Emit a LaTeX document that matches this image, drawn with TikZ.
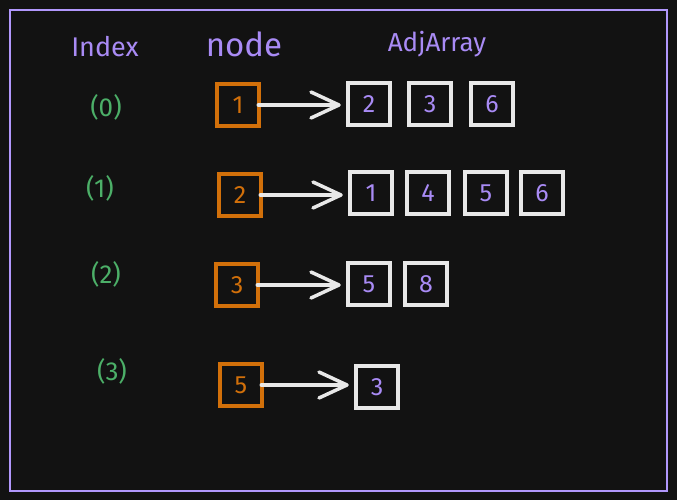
\documentclass[tikz,border=0pt]{standalone}
\usepackage{fontspec}
\setmainfont{Fira Sans}
\usetikzlibrary{arrows.meta}

\definecolor{bgdark}{HTML}{121212}
\definecolor{framelilac}{HTML}{B197FC}
\definecolor{textlilac}{HTML}{A98BF5}
\definecolor{idxgreen}{HTML}{4CAF68}
\definecolor{nodeorange}{HTML}{D2700A}
\definecolor{boxwhite}{HTML}{E8E8E8}

\tikzset{
  nodebox/.style={draw=nodeorange, line width=4.5pt, minimum size=42pt, inner sep=0pt,
    text=nodeorange, font=\fontsize{25}{28}\selectfont},
  adjbox/.style={draw=boxwhite, line width=4.5pt, minimum size=42pt, inner sep=0pt,
    text=textlilac, font=\fontsize{25}{28}\selectfont},
  idxlabel/.style={text=idxgreen, font=\fontsize{26}{28}\selectfont},
  header/.style={text=textlilac},
  linkarrow/.style={draw=boxwhite, line width=3.5pt, line cap=round,
    -{Straight Barb[length=28pt,width=26pt,round]}, shorten >=5pt}
}

\begin{document}
\begin{tikzpicture}[x=1pt,y=-1pt]
    % fondo y marco
    \useasboundingbox (0,0) rectangle (677,500);
    \fill[bgdark] (0,0) rectangle (677,500);
    \draw[framelilac, line width=2pt] (10,10) rectangle (667,491);

    % cabeceras
    \node[header, font=\fontsize{27}{30}\selectfont] (hindex) at (105,47) {Index};
    \node[header, font=\fontsize{33}{36}\selectfont] (hnode) at (244,44) {node};
    \node[header, font=\fontsize{26}{28}\selectfont] (hadj) at (437,44) {AdjArray};

    % indices
    \node[idxlabel] (i0) at (106,107) {(0)};
    \node[idxlabel] (i1) at (100,188) {(1)};
    \node[idxlabel] (i2) at (106,274) {(2)};
    \node[idxlabel] (i3) at (112,371) {(3)};

    % nodos
    \node[nodebox] (n0) at (238,105) {1};
    \node[nodebox] (n1) at (240,195) {2};
    \node[nodebox] (n2) at (237,285) {3};
    \node[nodebox] (n3) at (241,385) {5};

    % listas de adyacencia
    \node[adjbox] (a00) at (369,104) {2};
    \node[adjbox] (a01) at (430,104) {3};
    \node[adjbox] (a02) at (492,104) {6};

    \node[adjbox] (a10) at (371,193) {1};
    \node[adjbox] (a11) at (428,193) {4};
    \node[adjbox] (a12) at (486,193) {5};
    \node[adjbox] (a13) at (542,193) {6};

    \node[adjbox] (a20) at (369,284) {5};
    \node[adjbox] (a21) at (426,284) {8};

    \node[adjbox] (a30) at (377,387) {3};

    % enlaces
    \draw[linkarrow] ([xshift=-3pt]n0.east) -- (n0.east -| a00.west);
    \draw[linkarrow] ([xshift=-3pt]n1.east) -- (n1.east -| a10.west);
    \draw[linkarrow] ([xshift=-3pt]n2.east) -- (n2.east -| a20.west);
    \draw[linkarrow] ([xshift=-3pt]n3.east) -- (n3.east -| a30.west);
\end{tikzpicture}
\end{document}
